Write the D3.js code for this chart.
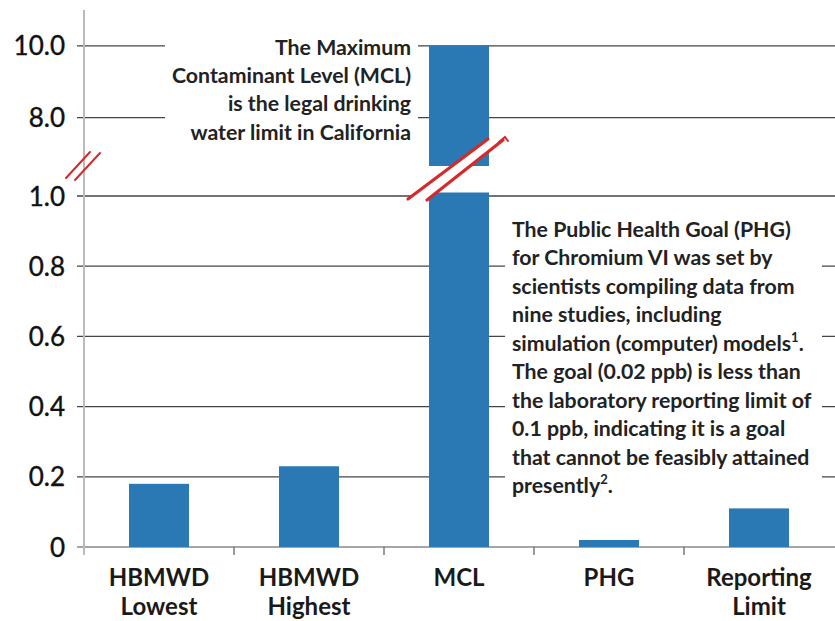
<!DOCTYPE html>
<html><head><meta charset="utf-8">
<script src="https://cdn.jsdelivr.net/npm/d3@7"></script>
<style>html,body{margin:0;padding:0;background:#fff;}svg{display:block;}</style>
</head><body><svg id="chart" width="835" height="621"></svg>
<script>
const categories = ["HBMWD Lowest", "HBMWD Highest", "MCL", "PHG", "Reporting Limit"];
const values = [0.18, 0.23, 10, 0.02, 0.11];
const upperTicks = [8, 10];
const lowerTicks = [0, 0.2, 0.4, 0.6, 0.8, 1.0];
const mclNote = ["The Maximum", "Contaminant Level (MCL)", "is the legal drinking", "water limit in California"];
const phgNote = ["The Public Health Goal (PHG)", "for Chromium VI was set by", "scientists compiling data from",
  "nine studies, including", "simulation (computer) models{1}.", "The goal (0.02 ppb) is less than",
  "the laboratory reporting limit of", "0.1 ppb, indicating it is a goal", "that cannot be feasibly attained",
  "presently{2}."];

const svg = d3.select("#chart");
const font = "Lato, 'Open Sans', sans-serif";
const barColor = "#2a78b4";
const axisX = 84, right = 834, gridLeft = 77, gridRight = 835;

const x = d3.scaleBand().domain(categories).range([axisX, right]).paddingInner(0.6).paddingOuter(0.3);
const yU = d3.scaleLinear().domain([6.65, 11]).range([166, 10]);
const yL = d3.scaleLinear().domain([0, 1.01]).range([547, 192.5]);
const fmt = d => d === 0 ? "0" : d3.format(".1f")(d);

// gridlines
const grid = svg.append("g");
grid.selectAll("line.u").data(upperTicks).join("line")
  .attr("x1", gridLeft).attr("x2", gridRight).attr("y1", d => yU(d)).attr("y2", d => yU(d))
  .attr("stroke", "#444").attr("stroke-width", 1.3);
grid.selectAll("line.l").data(lowerTicks).join("line")
  .attr("x1", gridLeft).attr("x2", gridRight).attr("y1", d => yL(d)).attr("y2", d => yL(d))
  .attr("stroke", d => d === 0 ? "#888" : "#444").attr("stroke-width", d => d === 0 ? 1.6 : 1.3);

// bars
const bars = svg.append("g").attr("fill", barColor);
categories.forEach((c, i) => {
  const v = values[i];
  if (v > yL.domain()[1]) {
    bars.append("rect").attr("x", x(c)).attr("width", x.bandwidth())
      .attr("y", yU(v)).attr("height", yU(yU.domain()[0]) - yU(v));
    bars.append("rect").attr("x", x(c)).attr("width", x.bandwidth())
      .attr("y", yL(yL.domain()[1])).attr("height", yL(0) - yL(yL.domain()[1]));
  } else {
    bars.append("rect").attr("x", x(c)).attr("width", x.bandwidth())
      .attr("y", yL(v)).attr("height", yL(0) - yL(v));
  }
});

// y axis line
svg.append("line").attr("x1", axisX).attr("x2", axisX).attr("y1", 10).attr("y2", 555)
  .attr("stroke", "#bbb").attr("stroke-width", 2);

// x ticks at band boundaries
const step = x.step();
const bounds = d3.range(1, categories.length).map(i => axisX + i * step);
svg.append("g").selectAll("line").data(bounds).join("line")
  .attr("x1", d => d).attr("x2", d => d).attr("y1", yL(0)).attr("y2", yL(0) + 8)
  .attr("stroke", "#666").attr("stroke-width", 1.3);

// y tick labels
const yl = svg.append("g").attr("font-family", font).attr("font-size", 26).attr("fill", "#111")
  .attr("text-anchor", "end").attr("stroke", "#111").attr("stroke-width", 0.4);
yl.selectAll("text.u").data(upperTicks).join("text").attr("x", 65).attr("y", d => yU(d) + 9.5).text(fmt);
yl.selectAll("text.l").data(lowerTicks).join("text").attr("x", 65).attr("y", d => yL(d) + 9.5).text(fmt);

// category labels
const xl = svg.append("g").attr("font-family", font).attr("font-size", 24).attr("font-weight", 700)
  .attr("fill", "#1a1a1a").attr("text-anchor", "middle");
categories.forEach(c => {
  const parts = c.split(" ");
  parts.forEach((p, j) => {
    xl.append("text").attr("x", x(c) + x.bandwidth() / 2).attr("y", 586 + j * 29).text(p);
  });
});

// annotation boxes
svg.append("rect").attr("x", 165).attr("y", 28).attr("width", 253).attr("height", 122).attr("fill", "#fff");
svg.append("rect").attr("x", 505).attr("y", 212).attr("width", 317).attr("height", 291).attr("fill", "#fff");

const noteStyle = g => g.attr("font-family", font).attr("font-size", 21.3).attr("font-weight", 700).attr("fill", "#222");
const mg = svg.append("g").call(noteStyle).attr("text-anchor", "end");
mclNote.forEach((t, i) => mg.append("text").attr("x", 411).attr("y", 55 + i * 28.2).text(t));

const pg = svg.append("g").call(noteStyle);
phgNote.forEach((t, i) => {
  const tx = pg.append("text").attr("x", 512).attr("y", 237 + i * 28.45);
  let sup = false;
  t.split(/(\{\d\})/).filter(s => s.length).forEach(s => {
    const m = s.match(/^\{(\d)\}$/);
    if (m) { tx.append("tspan").attr("dy", -9).attr("font-size", 13).text(m[1]); sup = true; }
    else if (sup) { tx.append("tspan").attr("dy", 9).text(s); sup = false; }
    else tx.append("tspan").text(s);
  });
});

// break marks
const red = "#d42a2a";
const brk = svg.append("g").attr("stroke", red).attr("stroke-width", 2).attr("stroke-linecap", "round");
brk.append("line").attr("x1", 66).attr("y1", 178).attr("x2", 90).attr("y2", 152);
brk.append("line").attr("x1", 75).attr("y1", 180).attr("x2", 100).attr("y2", 153);

// MCL bar break band
svg.append("polygon").attr("points", "409,198 488,139 505,139 427,200").attr("fill", "#fff");
const brk2 = svg.append("g").attr("stroke", red).attr("stroke-width", 3.2).attr("stroke-linecap", "round");
brk2.append("line").attr("x1", 408).attr("y1", 199).attr("x2", 488).attr("y2", 139);
brk2.append("line").attr("x1", 427).attr("y1", 200).attr("x2", 503).attr("y2", 140);
brk2.append("path").attr("d", "M499,142 L505,137 L508,141").attr("fill", "none").attr("stroke-width", 2);
</script></body></html>
